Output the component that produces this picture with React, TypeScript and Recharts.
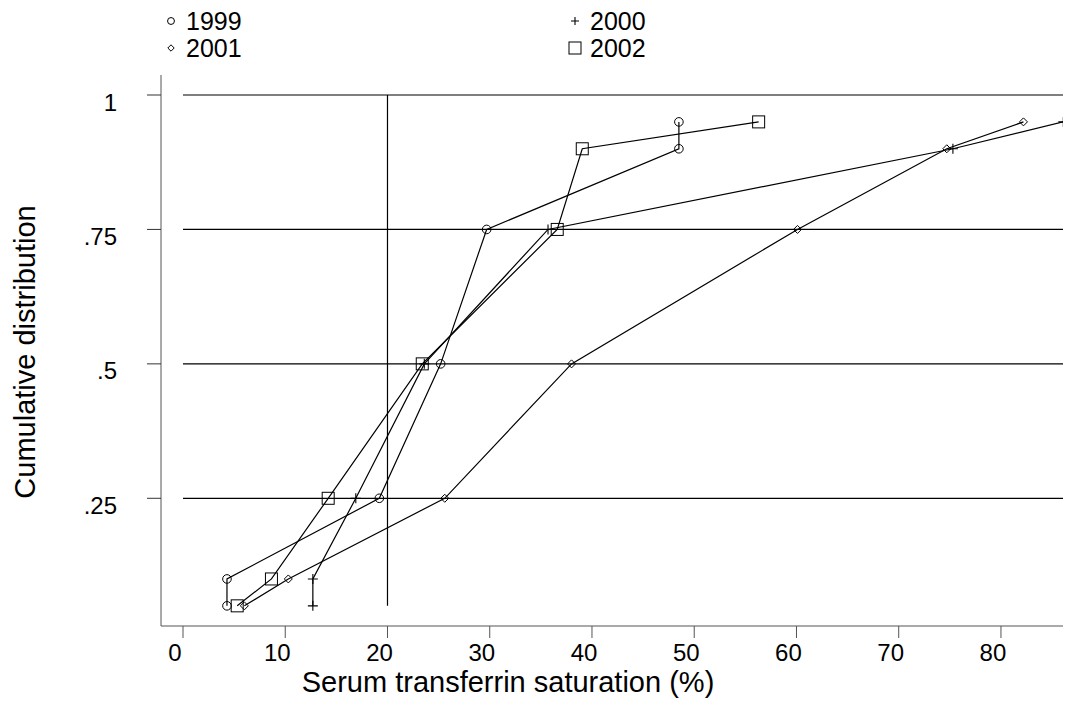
import React from 'react';
import { ComposedChart, Scatter, XAxis, YAxis, ReferenceLine, Label } from 'recharts';

const FONT = '"Liberation Sans", Arial, Helvetica, sans-serif';

// cumulative proportions (percentile levels) shared by every year
const PERCENTILES = [0.05, 0.1, 0.25, 0.5, 0.75, 0.9, 0.95];
// serum transferrin saturation (%) at each percentile
const SAT_1999 = [4.3, 4.3, 19.2, 25.2, 29.7, 48.5, 48.5];
const SAT_2000 = [12.7, 12.7, 16.9, 23.6, 35.7, 75.3, 86.1];
const SAT_2001 = [6.0, 10.3, 25.6, 38.0, 60.1, 74.7, 82.2];
const SAT_2002 = [5.3, 8.65, 14.2, 23.4, 36.6, 39.05, 56.3];

const X_TICKS = [0, 10, 20, 30, 40, 50, 60, 70, 80];
const Y_TICKS = [0.25, 0.5, 0.75, 1];
const Y_TICK_LABELS = ['.25', '.5', '.75', '1'];
const CUTOFF = 20;
const GRID_X_END = 86.5;

type Kind = 'circle' | 'plus' | 'diamond' | 'square';

const SERIES: { name: string; values: number[]; kind: Kind }[] = [
  { name: '1999', values: SAT_1999, kind: 'circle' },
  { name: '2000', values: SAT_2000, kind: 'plus' },
  { name: '2001', values: SAT_2001, kind: 'diamond' },
  { name: '2002', values: SAT_2002, kind: 'square' },
];

const toPoints = (xs: number[]) => xs.map((x, i) => ({ x, y: PERCENTILES[i] }));

function Marker({ kind, cx, cy, small }: { kind: Kind; cx: number; cy: number; small?: boolean }) {
  const s = small ? 0.8 : 1;
  if (kind === 'circle') return <circle cx={cx} cy={cy} r={4.3 * s} fill="none" stroke="#000" strokeWidth={1} />;
  if (kind === 'plus') {
    const a = 5 * s;
    return <path d={`M${cx - a},${cy}H${cx + a}M${cx},${cy - a}V${cy + a}`} stroke="#000" strokeWidth={1.1} fill="none" />;
  }
  if (kind === 'diamond') {
    const a = 4 * s;
    return <path d={`M${cx},${cy - a}L${cx + a},${cy}L${cx},${cy + a}L${cx - a},${cy}Z`} stroke="#000" strokeWidth={1} fill="none" />;
  }
  const h = 6 * s;
  return <rect x={cx - h} y={cy - h} width={2 * h} height={2 * h} stroke="#000" strokeWidth={1} fill="none" />;
}

const XTick = (props: any) => {
  const { x, y, payload } = props;
  return (
    <text x={x - 8} y={y} dy="0.72em" textAnchor="middle" fontFamily={FONT} fontSize={24} fill="#000">
      {payload.value}
    </text>
  );
};

const YTick = (props: any) => {
  const { x, y, payload } = props;
  const idx = Y_TICKS.indexOf(payload.value);
  return (
    <text x={x} y={y + 7} dominantBaseline="central" textAnchor="end" fontFamily={FONT} fontSize={24} fill="#000">
      {Y_TICK_LABELS[idx]}
    </text>
  );
};

const LEGEND_COLS = [171, 575];
const LEGEND_TEXT_DX = 15;
const LEGEND_ROWS = [21, 48];

export default function App() {
  return (
    <div style={{ position: 'relative', width: 1063, height: 717 }}>
      <ComposedChart
        width={1063}
        height={717}
        margin={{ top: 67, right: 0, bottom: 0, left: 0 }}
        style={{ background: '#fff' }}
      >
        <XAxis
          type="number"
          dataKey="x"
          domain={[-2.152, 86.85]}
          allowDataOverflow
          ticks={X_TICKS}
          interval={0}
          height={99}
          tickSize={12}
          tickMargin={6}
          tick={<XTick />}
          axisLine={{ stroke: '#555', strokeWidth: 1 }}
          tickLine={{ stroke: '#555', strokeWidth: 1 }}
        >
          <Label
            content={() => (
              <text x={500} y={674} dominantBaseline="central" textAnchor="middle" fontFamily={FONT} fontSize={29} fill="#000">
                Serum transferrin saturation (%)
              </text>
            )}
          />
        </XAxis>
        <YAxis
          type="number"
          dataKey="y"
          domain={[0.0125, 1.0372]}
          allowDataOverflow
          ticks={Y_TICKS}
          interval={0}
          width={153}
          tickSize={14}
          tickMargin={30}
          tick={<YTick />}
          axisLine={{ stroke: '#555', strokeWidth: 1 }}
          tickLine={{ stroke: '#333', strokeWidth: 1 }}
        >
          <Label
            content={() => (
              <text
                x={17}
                y={344}
                transform="rotate(-90 17 344)"
                dominantBaseline="central"
                textAnchor="middle"
                fontFamily={FONT}
                fontSize={29}
                fill="#000"
              >
                Cumulative distribution
              </text>
            )}
          />
        </YAxis>
        {Y_TICKS.map((v) => (
          <ReferenceLine
            key={v}
            segment={[{ x: 0, y: v }, { x: GRID_X_END, y: v }]}
            stroke="#000"
            strokeWidth={1.2}
            ifOverflow="visible"
          />
        ))}
        <ReferenceLine
          segment={[{ x: CUTOFF, y: PERCENTILES[0] }, { x: CUTOFF, y: 1 }]}
          stroke="#000"
          strokeWidth={1.2}
          ifOverflow="visible"
        />
        {SERIES.map((s) => (
          <Scatter
            key={s.name}
            name={s.name}
            data={toPoints(s.values)}
            line={{ stroke: '#000', strokeWidth: 1.2 }}
            lineType="joint"
            isAnimationActive={false}
            shape={(p: any) => <Marker kind={s.kind} cx={p.cx} cy={p.cy} />}
          />
        ))}
      </ComposedChart>
      <svg
        width={1071}
        height={70}
        style={{ position: 'absolute', left: -8, top: -8, pointerEvents: 'none' }}
      >
        {SERIES.map((s, i) => {
          const col = i % 2;
          const row = Math.floor(i / 2);
          const cx = LEGEND_COLS[col];
          const cy = LEGEND_ROWS[row];
          return (
            <g key={s.name}>
              <Marker kind={s.kind} cx={cx} cy={cy} small={s.kind !== 'square'} />
              <text x={cx + LEGEND_TEXT_DX} y={cy} dominantBaseline="central" fontFamily={FONT} fontSize={25} fill="#000">
                {s.name}
              </text>
            </g>
          );
        })}
      </svg>
    </div>
  );
}
